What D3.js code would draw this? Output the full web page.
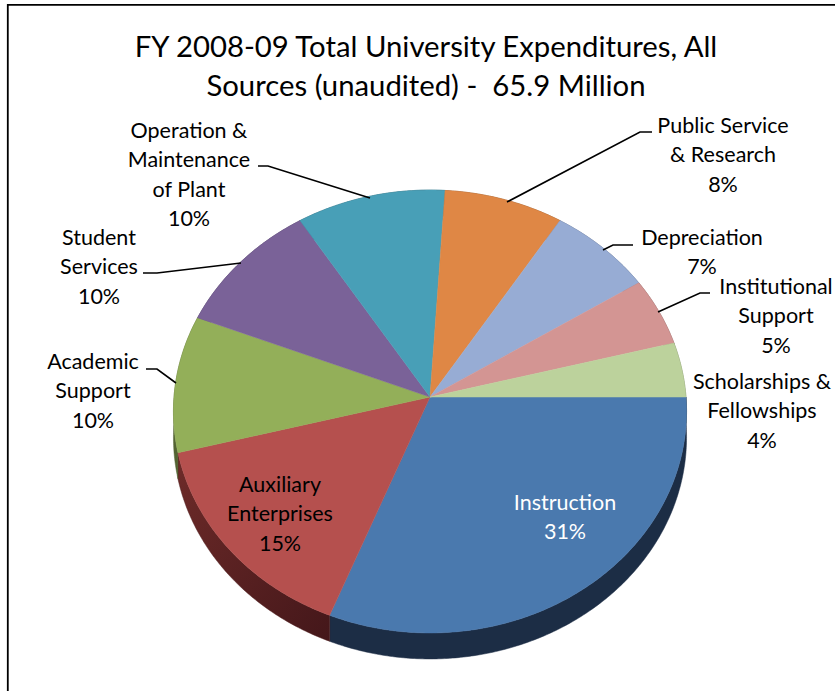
<!DOCTYPE html>
<html><head><meta charset="utf-8">
<script src="https://cdn.jsdelivr.net/npm/d3@7"></script>
<style>html,body{margin:0;padding:0;background:#fff;}svg{display:block;}text{white-space:pre;}</style>
</head><body>
<svg id="chart" width="835" height="691"></svg>
<script>
// ---- data ----
const categories = ["Instruction","Auxiliary Enterprises","Academic Support","Student Services","Operation & Maintenance of Plant","Public Service & Research","Depreciation","Institutional Support","Scholarships & Fellowships"];
const values = [31,15,10,10,10,8,7,5,4];
const labelNames = [["Instruction"],["Auxiliary","Enterprises"],["Academic","Support"],["Student","Services"],["Operation &","Maintenance","of Plant"],["Public Service","& Research"],["Depreciation"],["Institutional","Support"],["Scholarships &","Fellowships"]];
const colors = ["#4a79ae","#b5504e","#93af59","#7a6298","#489fb7","#df8745","#97acd4","#d39593","#bcd29c"];
const titleLines = ["FY 2008-09 Total University Expenditures, All","Sources (unaudited) -  65.9 Million"];

// ---- layout ----
const W=835,H=691;
const cx=430, cy=397, RX=256, A=220.5, K=0.0655, THICK=26;
const labelPos=[
  {x:565,y:510,color:"#fff"},
  {x:280,y:492,color:"#000"},
  {x:93,y:369},
  {x:99,y:245},
  {x:189,y:138},
  {x:723,y:133},
  {x:702,y:245},
  {x:776,y:294},
  {x:762,y:389}
];
const leaders=[null,null,
  [[146,369],[157,369],[176,383]],
  [[143,273],[157,273],[241,263]],
  [[258,166],[268,166],[370,198]],
  [[507,202],[640,132],[652,132]],
  [[603,250],[613,245],[633,245]],
  [[658,312],[700,293],[710,293]],
  null];

const svg=d3.select("#chart");
// frame
svg.append("line").attr("x1",7.8).attr("x2",7.8).attr("y1",4).attr("y2",H).attr("stroke","#000").attr("stroke-width",1.8);
svg.append("line").attr("x1",7).attr("x2",W).attr("y1",4.8).attr("y2",4.8).attr("stroke","#000").attr("stroke-width",1.8);

// title
const font="Lato, Carlito, Calibri, sans-serif";
svg.append("g").selectAll("text").data(titleLines).join("text")
  .attr("x",426).attr("y",(d,i)=>57+i*39)
  .attr("text-anchor","middle").attr("font-family",font).attr("font-size",29.3).attr("fill","#000")
  .text(d=>d);

// projection
function proj(phi,t){
  const px=Math.sin(phi)*t, d=-Math.cos(phi)*t;
  const den=1-K*d;
  return [cx+RX*px/den, cy+A*d/den];
}
const pie=d3.pie().sort(null).value(d=>d).startAngle(Math.PI/2).endAngle(Math.PI/2+2*Math.PI);
const arcs=pie(values);
const line=d3.line();
function arcPts(a0,a1){
  const n=Math.max(4,Math.ceil((a1-a0)/0.01));
  return d3.range(n+1).map(i=>proj(a0+(a1-a0)*i/n,1));
}
// gradient for auxiliary side
const defs=svg.append("defs");
const lg=defs.append("linearGradient").attr("id","auxSide").attr("x1","0").attr("y1","0").attr("x2","1").attr("y2","1");
lg.append("stop").attr("offset","0%").attr("stop-color","#6e2b29");
lg.append("stop").attr("offset","100%").attr("stop-color","#44171a");
// sides
const gSide=svg.append("g");
arcs.forEach((a,i)=>{
  const pts=arcPts(a.startAngle,a.endAngle);
  const bot=pts.map(p=>[p[0],p[1]+THICK]).reverse();
  const base=d3.color(colors[i]);
  const fill=i===0?"#1c2d45":(i===1?"url(#auxSide)":base.darker(1.6));
  gSide.append("path").attr("d",line(pts.concat(bot))+"Z")
    .attr("fill",fill).attr("stroke",i===1?"#4e1c1c":fill).attr("stroke-width",0.5);
});
// top faces
const gTop=svg.append("g");
arcs.forEach((a,i)=>{
  const pts=[proj(0,0)].concat(arcPts(a.startAngle,a.endAngle));
  gTop.append("path").attr("d",line(pts)+"Z").attr("fill",colors[i]).attr("stroke",colors[i]).attr("stroke-width",0.5);
});

// leader lines
svg.append("g").selectAll("path").data(leaders.filter(d=>d)).join("path")
  .attr("d",d=>line(d)).attr("fill","none").attr("stroke","#000").attr("stroke-width",1.6);

// labels
const gLab=svg.append("g");
arcs.forEach((a,i)=>{
  const lines=labelNames[i].concat([values[i]+"%"]);
  const p=labelPos[i];
  const t=gLab.append("text").attr("text-anchor","middle").attr("font-family",font).attr("font-size",21.5).attr("fill",p.color||"#000");
  lines.forEach((s,j)=>t.append("tspan").attr("x",p.x).attr("y",p.y+j*29.3).text(s));
});
</script>
</body></html>
